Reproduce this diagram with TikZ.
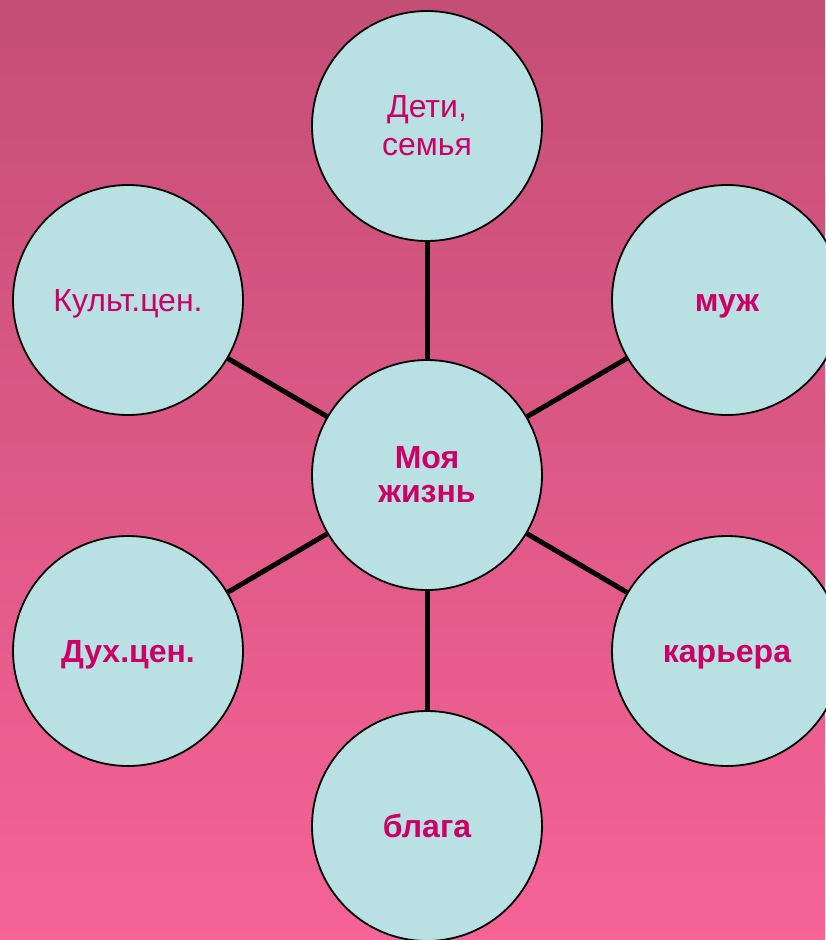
\documentclass[tikz,border=0pt]{standalone}
\usepackage{fontspec}
\setmainfont{Liberation Sans}
\usepackage{xcolor}
\usetikzlibrary{positioning}
\definecolor{bgtop}{HTML}{C44E76}
\definecolor{bgbot}{HTML}{F66396}
\definecolor{ballfill}{HTML}{B9E0E3}
\definecolor{inkpink}{HTML}{CC0066}

\begin{document}
\begin{tikzpicture}[
    x=1pt, y=-1pt,
    topic/.style={circle, draw=black, line width=1.8pt, fill=ballfill, minimum size=230pt, inner sep=0pt, align=center, text=inkpink, font=\fontsize{32}{38}\selectfont},
    bold/.style={topic, font=\fontsize{32}{34}\selectfont\bfseries},
    oneline/.style={text height=29pt, text depth=7pt},
    link/.style={line width=5pt}
]
    % Background
    \useasboundingbox (0,0) rectangle (825,940);
    \shade[top color=bgtop, bottom color=bgbot] (0,0) rectangle (825,940);

    % Circles
    \node[bold] (life) at (427,475) {Моя\\жизнь};
    \node[topic] (kids) at (427,126) {Дети,\\семья};
    \node[bold, oneline] (husband) at (727,300) {муж};
    \node[bold, oneline] (career) at (727,651) {карьера};
    \node[bold, oneline] (goods) at (427,826) {блага};
    \node[bold, oneline] (spirit) at (128,651) {Дух.цен.};
    \node[topic, oneline] (culture) at (128,300) {Культ.цен.};

    % Links
    \draw[link] (life) -- (kids);
    \draw[link] (life) -- (husband);
    \draw[link] (life) -- (career);
    \draw[link] (life) -- (goods);
    \draw[link] (life) -- (spirit);
    \draw[link] (life) -- (culture);
\end{tikzpicture}
\end{document}
